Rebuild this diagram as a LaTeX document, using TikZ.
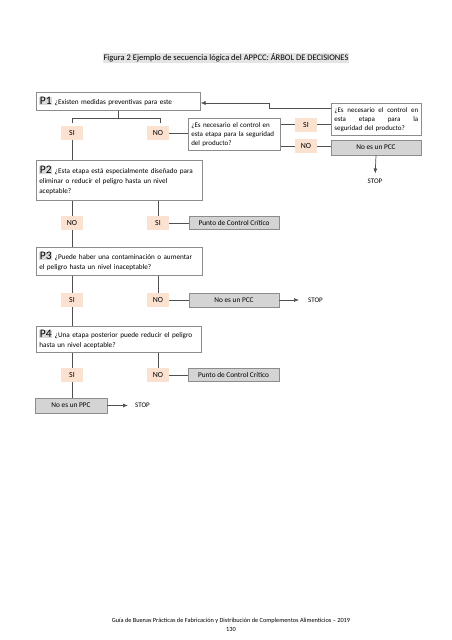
\documentclass[tikz,border=0pt]{standalone}
\usepackage{fontspec}
\setmainfont{Carlito}
\usetikzlibrary{arrows.meta}
\definecolor{peach}{HTML}{FBE1D0}
\definecolor{boxgray}{HTML}{D4D4D4}
\definecolor{edge}{HTML}{8C8C8C}
\definecolor{lbl}{HTML}{D9D9D9}
\definecolor{titlebg}{HTML}{E4E4E4}
\definecolor{ln}{HTML}{505050}
\newcommand{\plbl}[1]{{\setlength{\fboxsep}{0.6pt}\colorbox{lbl}{\fontsize{11.5}{11}\selectfont #1}}}
\tikzset{
  qbox/.style={draw=edge, line width=0.6pt, fill=white, anchor=north west, inner xsep=3pt, inner ysep=1.5pt, align=left, font=\fontsize{7.2}{10}\selectfont},
  sbox/.style={draw=edge, line width=0.6pt, fill=white, anchor=north west, inner xsep=3pt, inner ysep=1.5pt, align=left, font=\fontsize{7}{9}\selectfont},
  ans/.style={fill=peach, minimum width=22pt, minimum height=14pt, inner sep=0pt, font=\fontsize{7.8}{8}\selectfont},
  res/.style={draw=edge, fill=boxgray, line width=0.6pt, minimum width=90pt, minimum height=14pt, inner sep=0pt, font=\fontsize{7.3}{8}\selectfont},
  conn/.style={draw=ln, line width=0.7pt},
  arr/.style={conn, -{Latex[length=5pt,width=4pt]}},
  stoptxt/.style={font=\fontsize{7}{8}\selectfont, inner sep=0pt},
}
\begin{document}
\begin{tikzpicture}[x=1pt,y=-1pt]
\useasboundingbox (0,0) rectangle (452,640);
\fill[white] (0,0) rectangle (452,640);

% title
\node[fill=titlebg, inner xsep=1pt, inner ysep=1pt, font=\fontsize{8.5}{9}\selectfont] (title) at (226,58) {Figura 2 Ejemplo de secuencia lógica del APPCC: ÁRBOL DE DECISIONES};

% question boxes
\node[qbox, text width=158pt, minimum height=18pt] (p1) at (36,92) {\plbl{P1} ¿Existen medidas preventivas para este};
\node[sbox, text width=86pt, minimum height=32pt] (mq) at (188,118) {¿Es necesario el control en\\esta etapa para la seguridad\\del producto?};
\node[sbox, text width=84pt, minimum height=32pt] (rq) at (331,103) {\makebox[84pt]{¿Es\hfill necesario\hfill el\hfill control\hfill en}\\\makebox[84pt]{esta\hfill etapa\hfill para\hfill la}\\seguridad del producto?};
\node[qbox, text width=160pt, minimum height=40pt] (p2) at (36,160) {\plbl{P2} ¿Esta etapa está especialmente diseñado para\\eliminar o reducir el peligro hasta un nivel\\aceptable?};
\node[qbox, text width=160pt, minimum height=28pt] (p3) at (36,247) {\plbl{P3} ¿Puede haber una contaminación o aumentar\\el peligro hasta un nivel inaceptable?};
\node[qbox, text width=159pt, minimum height=26pt] (p4) at (36,326) {\plbl{P4} ¿Una etapa posterior puede reducir el peligro\\hasta un nivel aceptable?};

% answers
\node[ans] (a1si) at (72,133) {SI};
\node[ans] (a1no) at (158,133) {NO};
\node[ans] (b1si) at (306,124.5) {SI};
\node[ans] (b1no) at (306,146) {NO};
\node[ans] (a2no) at (72,223) {NO};
\node[ans] (a2si) at (158,223) {SI};
\node[ans] (a3si) at (72,300) {SI};
\node[ans] (a3no) at (158,300) {NO};
\node[ans] (a4si) at (72,375) {SI};
\node[ans] (a4no) at (158,375) {NO};

% results
\node[res, minimum height=15pt] (r1) at (376,147.5) {No es un PCC};
\node[res, minimum height=13pt] (r2) at (234,223) {Punto de Control Crítico};
\node[res] (r3) at (234,300) {No es un PCC};
\node[res, minimum height=13pt, minimum width=91pt] (r4) at (233.5,375) {Punto de Control Crítico};
\node[res, minimum width=72pt, minimum height=15pt] (r5) at (71,405.5) {No es un PPC};

% stops
\node[stoptxt] (s1) at (375,181) {STOP};
\node[stoptxt, anchor=west] (s2) at (308,300) {STOP};
\node[stoptxt, anchor=west] (s3) at (135,405.5) {STOP};

% bracket under P1
\coordinate (bl) at (72,118);
\coordinate (br) at (160,118);
\draw[conn] (p1.south) -- (p1.south |- bl);
\draw[conn] ([yshift=-5pt]bl) -- (bl) -- (br) -- ([yshift=-5pt]br);

% connectors
\draw[conn] (a1no.east) -- (mq.west |- a1no);
\draw[conn] (mq.east |- b1si) -- (b1si.west);
\draw[conn] (mq.east |- b1no) -- (b1no.west);
\draw[conn] (b1si.east) -- (rq.west |- b1si);
\draw[conn] (b1no.east) -- (r1.west |- b1no);
\coordinate (t1) at (269,108);
\coordinate (t2) at (269,103);
\draw[arr] (rq.west |- t1) -- (t1) -- (t2) -- (p1.east |- t2);
\draw[arr, shorten >=5pt] (r1.south) -- (s1.north);

\draw[conn] (a1si.south) -- (p2.north -| a1si);
\draw[conn] (p2.south -| a2no) -- (a2no.north);
\draw[conn] (p2.south -| a2si) -- (a2si.north);
\draw[conn] (a2si.east) -- (r2.west);
\draw[conn] (a2no.south) -- (p3.north -| a2no);

\draw[conn] (p3.south -| a3si) -- (a3si.north);
\draw[conn] (p3.south -| a3no) -- (a3no.north);
\draw[conn] (a3no.east) -- (r3.west);
\draw[arr, shorten >=9pt] (r3.east) -- (s2.west);
\draw[conn] (a3si.south) -- (p4.north -| a3si);

\draw[conn] (p4.south -| a4si) -- (a4si.north);
\draw[conn] (p4.south -| a4no) -- (a4no.north);
\draw[conn] (a4no.east) -- (r4.west);
\draw[conn] (a4si.south) -- (r5.north -| a4si);
\draw[arr, shorten >=7pt] (r5.east) -- (s3.west);

% footer
\node[font=\fontsize{6.3}{7}\selectfont, inner sep=0pt] (foot) at (231,621) {Guía de Buenas Prácticas de Fabricación y Distribución de Complementos Alimenticios – 2019};
\node[font=\fontsize{6.3}{7}\selectfont, inner sep=0pt] (pg) at (231,629.5) {130};
\end{tikzpicture}
\end{document}
